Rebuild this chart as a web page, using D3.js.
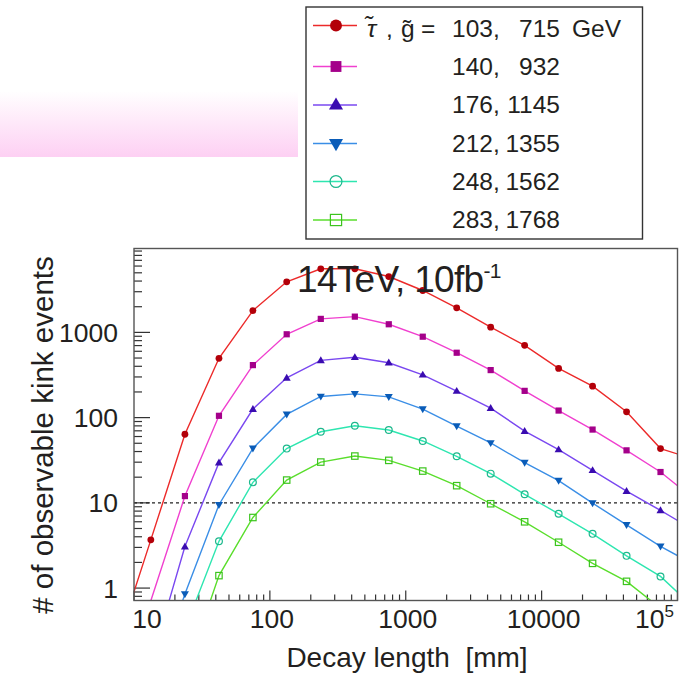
<!DOCTYPE html>
<html>
<head>
<meta charset="utf-8">
<script src="https://cdn.jsdelivr.net/npm/d3@7"></script>
<style>
  body { margin: 0; background: #fff; }
  svg { display: block; }
  text { font-family: "Liberation Sans", Arial, Helvetica, sans-serif; fill: #231f20; }
</style>
</head>
<body>
<svg id="chart" width="684" height="675"></svg>
<script>
// Decay length bin centres [mm] (four log bins per decade, incl. one bin beyond each edge)
const decayLength = [7.50, 13.3, 23.7, 42.2, 75.0, 133, 237, 422, 750, 1334, 2371, 4217, 7499, 13335, 23714, 42170, 74989, 133352];

// Stau / gluino masses [GeV] for each benchmark point
const stauMass   = ["103", "140", "176", "212", "248", "283"];
const gluinoMass = ["715", "932", "1145", "1355", "1562", "1768"];

// Number of observable kink events at 14 TeV, 10 fb^-1
const events103 = [0.22, 3.68, 63.8, 496, 1800, 3920, 5570, 5570, 4520, 3100, 1940, 1150, 705, 378, 234, 117, 43.3, 32.4];
const events140 = [0.043, 0.71, 12.0, 105, 413, 950, 1440, 1530, 1245, 890, 577, 361, 206, 121, 72.4, 41.3, 23.0, 11.0];
const events176 = [null, 0.13, 3.07, 29.6, 126, 293, 470, 510, 440, 318, 205, 129, 69.5, 42.2, 24.1, 13.7, 8.14, 4.73];
const events212 = [null, 0.057, 0.85, 9.5, 43.6, 109, 177, 190, 175, 126, 79.6, 50.4, 29.6, 18.2, 9.92, 5.52, 3.09, 1.87];
const events248 = [null, null, 0.33, 3.54, 17.4, 43.3, 68.2, 80.3, 71.5, 53.2, 35.2, 22.0, 12.6, 7.44, 4.33, 2.39, 1.37, 0.58];
const events283 = [null, null, 0.096, 1.40, 6.73, 18.5, 30.1, 35.4, 31.5, 23.6, 15.9, 9.76, 5.99, 3.45, 1.95, 1.20, 0.58, null];

const xTickValues = [10, 100, 1000, 10000, 100000];
const xTickLabels = ["10", "100", "1000", "10000", "10"];
const yTickValues = [1, 10, 100, 1000];
const yTickLabels = ["1", "10", "100", "1000"];
const threshold = 10;

const lineColors   = ["#ec2a2a", "#f040cf", "#7a48f0", "#3a8ee6", "#2ee6b0", "#5ade2c"];
const markerColors = ["#b30009", "#a4008a", "#3a0cb0", "#0a5cb8", "#1cb88c", "#3cc41e"];
const markerShapes = ["circle", "square", "triangleUp", "triangleDown", "openCircle", "openSquare"];

const allEvents = [events103, events140, events176, events212, events248, events283];

const svg = d3.select("#chart");
const frame = { left: 134, right: 677.5, top: 248.5, bottom: 600.5 };

const x = d3.scaleLog().domain([10, 100000]).range([frame.left, frame.right]);
const y = d3.scaleLog().domain([0.715, 9640]).range([frame.bottom, frame.top]);

// Pink shaded band at upper left
const defs = svg.append("defs");
const grad = defs.append("linearGradient").attr("id", "band").attr("x1", 0).attr("y1", 0).attr("x2", 0).attr("y2", 1);
grad.append("stop").attr("offset", "0").attr("stop-color", "#ffffff");
grad.append("stop").attr("offset", "1").attr("stop-color", "#fdd0f3");
svg.append("rect").attr("x", 0).attr("y", 91).attr("width", 298).attr("height", 66).attr("fill", "url(#band)");

defs.append("clipPath").attr("id", "plotClip")
  .append("rect").attr("x", frame.left).attr("y", frame.top)
  .attr("width", frame.right - frame.left).attr("height", frame.bottom - frame.top);

// Axis ticks (drawn inward, ROOT style)
const minorX = [];
for (let d = 10; d < 100000; d *= 10) for (let k = 2; k <= 9; k++) minorX.push(d * k);
const minorY = [];
for (let d = 0.1; d < 10000; d *= 10) for (let k = 2; k <= 9; k++) {
  const v = d * k;
  if (v >= y.domain()[0] && v <= y.domain()[1]) minorY.push(v);
}

const ticks = svg.append("g").attr("stroke", "#333").attr("stroke-width", 1.2);
xTickValues.forEach(v => ticks.append("line").attr("x1", x(v)).attr("x2", x(v)).attr("y1", frame.bottom).attr("y2", frame.bottom - 10));
minorX.forEach(v => ticks.append("line").attr("x1", x(v)).attr("x2", x(v)).attr("y1", frame.bottom).attr("y2", frame.bottom - 6));
yTickValues.concat([10000]).forEach(v => {
  if (y(v) >= frame.top - 1) ticks.append("line").attr("x1", frame.left).attr("x2", frame.left + 16).attr("y1", y(v)).attr("y2", y(v));
});
minorY.forEach(v => ticks.append("line").attr("x1", frame.left).attr("x2", frame.left + 8).attr("y1", y(v)).attr("y2", y(v)));

// Tick labels
const xl = svg.append("g").attr("font-size", 26.5).attr("text-anchor", "middle");
xTickValues.forEach((v, i) => {
  let px = x(v);
  if (i === 0) px += 11;
  if (i === xTickValues.length - 1) {
    const t = xl.append("text").attr("x", px - 23).attr("y", 628);
    t.append("tspan").text(xTickLabels[i]);
    t.append("tspan").attr("font-size", 17).attr("dy", -11).text("5");
  } else {
    xl.append("text").attr("x", px + 2).attr("y", 628).text(xTickLabels[i]);
  }
});
const yl = svg.append("g").attr("font-size", 26.5).attr("text-anchor", "end");
yTickValues.forEach((v, i) => yl.append("text").attr("x", 118).attr("y", y(v) + 9.5).text(yTickLabels[i]));

// Axis titles
svg.append("text").attr("x", 407).attr("y", 667).attr("font-size", 28).attr("text-anchor", "middle")
  .attr("xml:space", "preserve").text("Decay length  [mm]");
svg.append("text").attr("transform", "translate(53,435) rotate(-90)").attr("font-size", 29.5)
  .attr("text-anchor", "middle").text("# of observable kink events");

// Threshold of 10 events
svg.append("line").attr("x1", frame.left).attr("x2", frame.right).attr("y1", y(threshold)).attr("y2", y(threshold))
  .attr("stroke", "#222").attr("stroke-width", 1.3).attr("stroke-dasharray", "3,3");

// Curves
const line = d3.line().defined(d => d[1] != null).x(d => x(d[0])).y(d => y(d[1]));
const curves = svg.append("g").attr("clip-path", "url(#plotClip)");

function drawMarker(g, shape, cx, cy, color, scale) {
  const s = scale;
  if (shape === "circle") {
    g.append("circle").attr("cx", cx).attr("cy", cy).attr("r", 3.4 * s).attr("fill", color);
  } else if (shape === "openCircle") {
    g.append("circle").attr("cx", cx).attr("cy", cy).attr("r", 3.4 * s).attr("fill", "none").attr("stroke", color).attr("stroke-width", 1.2);
  } else if (shape === "square") {
    const h = 3.1 * s;
    g.append("rect").attr("x", cx - h).attr("y", cy - h).attr("width", 2 * h).attr("height", 2 * h).attr("fill", color);
  } else if (shape === "openSquare") {
    const h = 3.2 * s;
    g.append("rect").attr("x", cx - h).attr("y", cy - h).attr("width", 2 * h).attr("height", 2 * h).attr("fill", "none").attr("stroke", color).attr("stroke-width", 1.2);
  } else {
    const sym = d3.symbol().type(d3.symbolTriangle).size(28 * s * s);
    g.append("path").attr("d", sym()).attr("fill", color)
      .attr("transform", `translate(${cx},${cy + (shape === "triangleDown" ? -0.5 : 0.5)}) rotate(${shape === "triangleDown" ? 180 : 0})`);
  }
}

allEvents.forEach((vals, i) => {
  const pts = decayLength.map((d, j) => [d, vals[j]]);
  curves.append("path").datum(pts).attr("d", line)
    .attr("fill", "none").attr("stroke", lineColors[i]).attr("stroke-width", 1.4);
});
const marks = svg.append("g");
allEvents.forEach((vals, i) => {
  decayLength.forEach((d, j) => {
    const v = vals[j];
    if (v == null) return;
    if (d < x.domain()[0] || d > x.domain()[1] || v < y.domain()[0] || v > y.domain()[1]) return;
    drawMarker(marks, markerShapes[i], x(d), y(v), markerColors[i], 1);
  });
});

// Frame
svg.append("rect").attr("x", frame.left).attr("y", frame.top)
  .attr("width", frame.right - frame.left).attr("height", frame.bottom - frame.top)
  .attr("fill", "none").attr("stroke", "#555").attr("stroke-width", 1.4);

// Title
const title = svg.append("text").attr("x", 297).attr("y", 292).attr("font-size", 37).attr("letter-spacing", -0.7);
title.append("tspan").text("14TeV, 10fb");
title.append("tspan").attr("font-size", 21).attr("dy", -14).text("-1");

// Legend
const lg = svg.append("g");
lg.append("rect").attr("x", 306).attr("y", 7).attr("width", 336.5).attr("height", 232)
  .attr("fill", "#fff").attr("stroke", "#333").attr("stroke-width", 1.4);
const rowY = [25.5, 66.5, 105, 143.5, 181.5, 220];
stauMass.forEach((m, i) => {
  const cy = rowY[i];
  lg.append("line").attr("x1", 313).attr("x2", 357).attr("y1", cy).attr("y2", cy)
    .attr("stroke", lineColors[i]).attr("stroke-width", 1.4);
  drawMarker(lg, markerShapes[i], 336, cy, markerColors[i], 1.75);
  const base = cy + (i === 0 ? 11 : 8);
  lg.append("text").attr("x", 452).attr("y", base).attr("font-size", 24.5).text(m + ",");
  lg.append("text").attr("x", 560).attr("y", base).attr("font-size", 24.5).attr("text-anchor", "end").text(gluinoMass[i]);
});
const first = lg.append("text").attr("y", 36.5).attr("font-size", 24.5);
first.append("tspan").attr("x", 367).attr("font-style", "italic").text("τ\u0303");
first.append("tspan").attr("x", 386).text(",");
first.append("tspan").attr("x", 401).text("g\u0303");
first.append("tspan").attr("x", 421).text("=");
lg.append("text").attr("x", 572).attr("y", 36.5).attr("font-size", 24.5).text("GeV");
</script>
</body>
</html>
